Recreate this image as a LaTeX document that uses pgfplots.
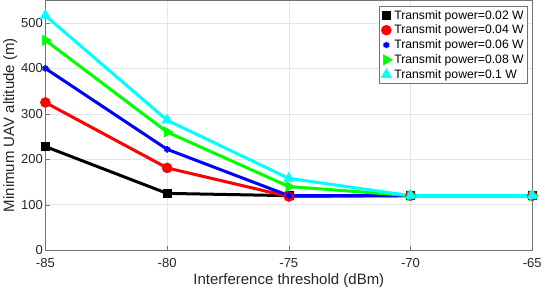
\documentclass[border=0pt]{standalone}
\usepackage{fontspec}
\setmainfont{Liberation Sans}
\usepackage{pgfplots}
\pgfplotsset{compat=1.18}
\definecolor{mgreen}{RGB}{0,255,0}
\definecolor{mcyan}{RGB}{0,255,255}
\definecolor{tk}{RGB}{38,38,38}
\begin{document}
\begin{tikzpicture}
\begin{axis}[
  scale only axis,
  width=487pt, height=250pt,
  xmin=-85, xmax=-65, ymin=0, ymax=550,
  xtick={-85,-80,-75,-70,-65},
  ytick={0,100,200,300,400,500},
  /pgf/number format/assume math mode=true,
  ticklabel style={font=\fontsize{13}{14}\selectfont, text=tk},
  xticklabel style={yshift=-5pt},
  yticklabel style={xshift=1pt},
  xlabel={Interference threshold (dBm)},
  ylabel={Minimum UAV altitude (m)},
  label style={font=\fontsize{15}{17}\selectfont, text=tk},
  xlabel style={yshift=1pt},
  ylabel style={yshift=-3pt},
  grid=major,
  major grid style={black!10, line width=0.5pt},
  axis line style={black!55},
  tick style={black!55},
  tick align=inside,
  xtick pos=bottom, ytick pos=left,
  legend style={at={(0.99,0.975)}, anchor=north east, draw=black!55, font=\fontsize{12.2}{13}\selectfont, inner sep=1.5pt, row sep=0.5pt, cells={anchor=west}},
  legend image code/.code={\draw[#1] plot[only marks] coordinates {(0.2cm,0cm)};},
  every axis plot/.append style={line width=3pt},
  clip=false,
]
\addplot[black, mark=square*, mark size=4pt, mark options={line width=0.5pt}] coordinates {(-85,228) (-80,125) (-75,120) (-70,120) (-65,120)};
\addlegendentry{Transmit power=0.02 W}
\addplot[red, mark=*, mark size=5pt, mark options={line width=0.5pt}] coordinates {(-85,325) (-80,181) (-75,118) (-70,120) (-65,120)};
\addlegendentry{Transmit power=0.04 W}
\addplot[blue, mark=asterisk, mark size=3.2pt, mark options={line width=2pt}] coordinates {(-85,400) (-80,222) (-75,120) (-70,120) (-65,120)};
\addlegendentry{Transmit power=0.06 W}
\addplot[mgreen, mark=triangle*, mark size=6pt, mark options={rotate=-90, line width=0.5pt}] coordinates {(-85,462) (-80,260) (-75,140) (-70,120) (-65,120)};
\addlegendentry{Transmit power=0.08 W}
\addplot[mcyan, mark=triangle*, mark size=6pt, mark options={line width=0.5pt}] coordinates {(-85,516) (-80,286) (-75,158) (-70,120) (-65,120)};
\addlegendentry{Transmit power=0.1 W}
\end{axis}
\end{tikzpicture}
\end{document}
